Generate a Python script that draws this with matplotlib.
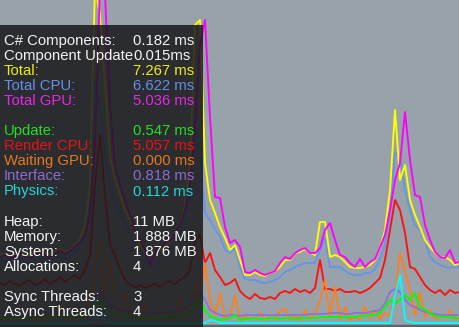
import numpy as np
import matplotlib
matplotlib.use("Agg")
import matplotlib.pyplot as plt
from matplotlib.patches import Rectangle

plt.rcParams['font.family'] = ['Liberation Sans', 'DejaVu Sans']

# frame timings (ms), one sample every 5 px of the 460 px wide graph
total = [
    7.0, 7.2, 6.8, 7.0, 7.3, 7.0, 6.9, 7.2, 7.5, 7.2,
    7.0, 7.4, 7.6, 7.3, 7.5, 8.0, 8.6, 10.0, 14.0, 34.0,
    31.0, 24.0, 17.0, 14.5, 13.0, 11.5, 10.5, 9.5, 8.0, 7.3,
    7.0, 7.2, 7.5, 7.8, 8.5, 9.0, 10.0, 12.0, 16.0, 30.0,
    30.5, 16.2, 12.5, 11.2, 9.8, 8.7, 7.5, 8.0, 6.5, 5.0,
    5.0, 5.3, 5.0, 4.9, 5.2, 5.4, 5.8, 6.5, 6.5, 7.2,
    7.3, 7.6, 7.2, 7.0, 10.3, 10.3, 6.8, 7.0, 6.8, 6.3,
    5.8, 5.7, 5.7, 5.8, 6.0, 6.5, 7.8, 9.5, 13.5, 21.5,
    14.5, 16.0, 12.5, 11.0, 9.8, 8.5, 7.8, 7.2, 6.8, 6.8,
    6.5, 6.0, 6.2]
total_gpu = [
    6.8, 7.0, 6.6, 6.9, 7.2, 6.8, 6.7, 7.0, 7.3, 7.0,
    6.8, 7.2, 7.4, 7.1, 7.4, 7.8, 8.3, 9.0, 11.0, 18.0,
    34.0, 33.0, 22.0, 16.0, 14.0, 12.5, 11.0, 9.5, 8.5, 7.5,
    6.0, 7.2, 7.8, 8.2, 8.5, 9.0, 10.0, 11.5, 14.0, 20.0,
    28.0, 30.5, 20.8, 12.8, 12.7, 9.8, 8.2, 8.5, 7.8, 5.3,
    5.2, 5.5, 5.2, 5.0, 5.2, 5.4, 6.2, 6.8, 6.6, 7.2,
    7.5, 7.7, 7.2, 7.2, 7.7, 9.5, 10.2, 8.5, 7.0, 6.8,
    6.2, 5.8, 6.6, 5.8, 6.3, 6.6, 7.8, 9.0, 11.5, 14.5,
    16.2, 21.3, 16.5, 13.0, 12.8, 10.0, 8.5, 7.3, 6.8, 6.7,
    7.5, 6.2, 6.3]
total_cpu = [
    6.3, 6.5, 6.1, 6.3, 6.6, 6.3, 6.2, 6.5, 6.8, 6.5,
    6.3, 6.7, 6.9, 6.6, 6.8, 7.2, 7.8, 8.8, 12.0, 24.0,
    22.0, 17.0, 14.0, 12.0, 11.0, 10.0, 9.0, 8.0, 7.0, 6.4,
    6.2, 6.3, 6.6, 7.0, 7.5, 8.0, 9.0, 10.5, 13.0, 20.0,
    17.0, 11.2, 10.5, 9.6, 8.8, 7.5, 7.2, 7.7, 5.8, 4.6,
    4.5, 4.5, 4.3, 4.2, 4.3, 4.5, 4.8, 5.3, 5.5, 5.8,
    6.0, 6.2, 6.2, 6.2, 7.5, 8.7, 5.8, 5.8, 5.8, 5.4,
    5.1, 5.0, 5.0, 5.2, 5.2, 5.6, 6.6, 8.0, 11.0, 17.2,
    16.8, 13.5, 11.5, 10.0, 9.5, 8.5, 6.8, 6.3, 6.0, 5.8,
    5.7, 5.8, 5.8]
render_cpu = [
    4.2, 4.0, 4.4, 4.1, 3.9, 4.3, 4.5, 4.0, 4.2, 4.6,
    4.1, 4.4, 4.8, 4.3, 4.7, 5.0, 4.6, 5.5, 7.0, 14.0,
    19.0, 13.0, 8.0, 7.0, 5.5, 4.5, 4.0, 3.8, 4.0, 3.7,
    3.9, 4.1, 3.8, 4.2, 4.4, 4.1, 4.5, 4.8, 5.5, 8.5,
    9.0, 6.2, 7.2, 5.5, 4.8, 4.0, 4.2, 4.6, 3.4, 2.9,
    2.6, 3.1, 2.7, 2.6, 2.8, 2.6, 3.2, 3.4, 3.2, 3.6,
    3.3, 3.5, 3.2, 3.7, 6.5, 3.6, 3.6, 3.4, 3.6, 3.3,
    3.3, 3.4, 3.2, 3.4, 3.7, 4.2, 4.7, 6.5, 9.5, 12.5,
    11.5, 9.2, 5.8, 5.6, 4.8, 4.0, 3.5, 3.2, 3.5, 3.0,
    3.5, 3.2, 3.3]
waiting_gpu = [
    0.5, 0.8, 0.4, 1.2, 0.5, 0.7, 1.5, 0.5, 0.8, 0.4,
    1.0, 0.6, 2.0, 0.5, 0.9, 0.6, 1.5, 0.8, 2.5, 6.0,
    8.5, 3.0, 6.5, 2.0, 1.0, 3.5, 0.8, 1.2, 0.6, 2.2,
    0.7, 0.5, 1.4, 0.6, 1.0, 0.5, 2.8, 0.7, 1.5, 4.0,
    2.0, 6.2, 2.5, 1.0, 3.2, 0.7, 1.0, 3.0, 0.5, 0.8,
    0.6, 0.7, 1.2, 0.5, 0.8, 0.6, 1.4, 1.6, 0.6, 0.9,
    0.5, 1.5, 0.7, 1.1, 2.5, 4.5, 0.8, 3.8, 0.6, 1.8,
    0.5, 0.8, 0.6, 1.8, 0.7, 1.5, 0.6, 1.2, 0.9, 3.0,
    7.2, 5.5, 3.5, 1.0, 3.3, 0.8, 1.5, 0.6, 0.9, 0.7,
    1.5, 0.6, 0.8]
update = [
    0.8, 0.7, 0.8, 0.9, 0.8, 0.7, 0.8, 0.8, 0.9, 0.8,
    0.7, 0.8, 0.9, 0.8, 0.8, 0.9, 0.8, 0.9, 1.2, 2.0,
    2.5, 1.8, 1.3, 1.0, 0.9, 0.8, 0.8, 0.8, 0.7, 0.8,
    0.8, 0.7, 0.8, 0.8, 0.9, 0.8, 0.9, 1.0, 1.3, 2.0,
    2.8, 1.5, 0.9, 0.7, 0.5, 0.6, 0.7, 1.0, 0.5, 0.6,
    0.6, 0.7, 0.6, 0.6, 0.7, 0.7, 0.6, 0.7, 0.7, 0.6,
    0.7, 0.7, 0.7, 0.7, 0.8, 0.8, 0.8, 0.8, 0.8, 0.8,
    0.8, 0.8, 0.9, 0.9, 1.0, 1.0, 1.2, 1.8, 2.5, 2.2,
    2.5, 3.0, 2.5, 3.2, 1.8, 1.5, 1.2, 0.9, 0.8, 0.8,
    0.8, 0.7, 0.7]
interface = [
    1.2, 1.1, 1.2, 1.3, 1.2, 1.1, 1.2, 1.2, 1.3, 1.2,
    1.1, 1.2, 1.3, 1.2, 1.2, 1.3, 1.3, 1.4, 1.8, 2.8,
    3.2, 2.6, 2.0, 1.7, 1.5, 1.4, 1.3, 1.2, 1.2, 1.2,
    1.1, 1.2, 1.2, 1.2, 1.3, 1.3, 1.4, 1.6, 2.0, 2.8,
    3.2, 2.5, 1.5, 1.2, 1.0, 0.9, 1.0, 1.0, 0.9, 1.0,
    1.0, 1.0, 1.0, 1.0, 1.0, 1.0, 1.0, 1.0, 1.0, 1.0,
    1.0, 1.0, 1.1, 1.1, 1.1, 1.1, 1.2, 1.2, 1.2, 1.1,
    1.1, 1.2, 1.2, 1.2, 1.3, 1.4, 1.5, 2.2, 3.3, 3.6,
    3.3, 2.5, 2.0, 1.8, 1.5, 1.3, 1.2, 1.1, 1.0, 1.0,
    1.0, 1.0, 1.0]
physics = [
    0.2, 0.2, 0.2, 0.2, 0.2, 0.2, 0.2, 0.2, 0.2, 0.2,
    0.2, 0.2, 0.2, 0.2, 0.2, 0.2, 0.2, 0.2, 0.3, 0.8,
    1.5, 0.6, 0.3, 0.2, 0.2, 0.2, 0.2, 0.2, 0.2, 0.2,
    0.2, 0.2, 0.2, 0.2, 0.2, 0.2, 0.2, 0.2, 0.2, 0.2,
    0.2, 0.2, 0.5, 0.4, 0.2, 0.2, 0.2, 0.2, 0.2, 0.2,
    0.2, 0.2, 0.2, 0.2, 0.2, 0.2, 0.2, 0.2, 0.2, 0.2,
    0.2, 0.2, 0.2, 0.2, 0.2, 0.2, 0.2, 0.2, 0.2, 0.2,
    0.2, 0.2, 0.2, 0.2, 0.2, 0.2, 0.2, 0.2, 0.2, 3.0,
    5.0, 0.5, 0.3, 0.2, 0.2, 0.2, 0.2, 0.2, 0.2, 0.2,
    0.2, 0.2, 0.2]

# overlay text
labels = ["C# Components:", "Component Update", "Total:", "Total CPU:", "Total GPU:", "",
          "Update:", "Render CPU:", "Waiting GPU:", "Interface:", "Physics:", "",
          "Heap:", "Memory:", "System:", "Allocations:", "",
          "Sync Threads:", "Async Threads:"]
values = ["0.182 ms", "0.015ms", "7.267 ms", "6.622 ms", "5.036 ms", "",
          "0.547 ms", "5.057 ms", "0.000 ms", "0.818 ms", "0.112 ms", "",
          "11 MB", "1 888 MB", "1 876 MB", "4", "",
          "3", "4"]

WHITE = '#f4f4f4'
text_colors = [WHITE, WHITE, '#eeee10', '#6490e6', '#e628e6', WHITE,
               '#22e022', '#e61414', '#e67820', '#8c6cd2', '#22d6d6', WHITE,
               WHITE, WHITE, WHITE, WHITE, WHITE, WHITE, WHITE]

series = [(total_cpu, '#6495ed'), (total, '#ffff00'), (total_gpu, '#ff00ff'),
          (render_cpu, '#ff1010'), (waiting_gpu, '#ff7f1e'), (interface, '#9370db'),
          (update, '#00ff00'), (physics, '#00ffff')]

for s, c in series:
    if len(s) != len(total):
        raise ValueError("series length mismatch %d" % len(s))

W, H = 460, 327
x = np.arange(len(total))

fig = plt.figure(figsize=(W / 100, H / 100), dpi=100)
fig.patch.set_facecolor('#98a2aa')
ax = fig.add_axes([0, 0, 1, 1])
ax.set_axis_off()
ax.set_xlim(0, len(x) - 1)
ax.set_ylim(-0.2, 32.5)

for s, c in series:
    ax.plot(x, s, color=c, lw=1.35, zorder=2)

# bottom strip
ax.axhspan(-0.2, 0.0, color='#5c646b', zorder=3)

# dark stats panel
ax.add_patch(Rectangle((0, 0), 203.5 / W, (H - 25) / H, transform=ax.transAxes,
                       facecolor='#17181b', alpha=0.85, lw=0, zorder=5))

for k, (lab, val, col) in enumerate(zip(labels, values, text_colors)):
    yb = 1 - (45 + 15.05 * k) / H
    ax.text(4 / W, yb, lab, color=col, fontsize=10.7, va='baseline', ha='left',
            transform=ax.transAxes, zorder=6)
    ax.text(133 / W, yb, val, color=col, fontsize=10.7, va='baseline', ha='left',
            transform=ax.transAxes, zorder=6)

fig.savefig('out.png', dpi=100, facecolor=fig.get_facecolor())
